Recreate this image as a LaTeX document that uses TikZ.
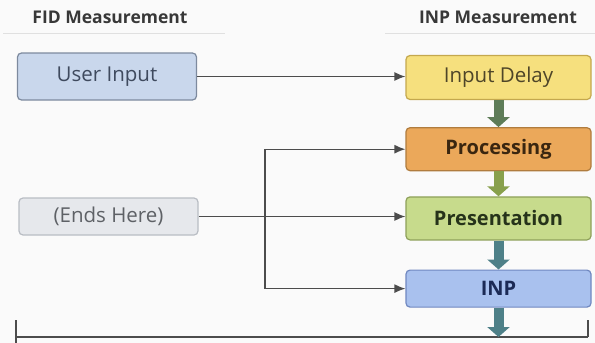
\documentclass[tikz,border=0pt]{standalone}
\usepackage{fontspec}
\setmainfont{Open Sans}
\usepackage{xcolor}
\usepackage{tikz}
\usetikzlibrary{positioning}
\usetikzlibrary{calc,arrows.meta}
\definecolor{userfill}{HTML}{C9D7EC}
\definecolor{userline}{HTML}{7D8A9E}
\definecolor{usertext}{HTML}{3F4A5E}
\definecolor{endsfill}{HTML}{E6E8EC}
\definecolor{endsline}{HTML}{B9BDC4}
\definecolor{endstext}{HTML}{5E6166}
\definecolor{delayfill}{HTML}{F6E07E}
\definecolor{delayline}{HTML}{C4A84E}
\definecolor{delaytext}{HTML}{4E4528}
\definecolor{procfill}{HTML}{EBA85A}
\definecolor{procline}{HTML}{B07C3E}
\definecolor{proctext}{HTML}{3A2610}
\definecolor{presfill}{HTML}{C7DB8C}
\definecolor{presline}{HTML}{8EA05A}
\definecolor{prestext}{HTML}{26331A}
\definecolor{inpfill}{HTML}{A9C1EE}
\definecolor{inpline}{HTML}{7088C0}
\definecolor{inptext}{HTML}{1C2A55}
\definecolor{flowgreen}{HTML}{5E7C58}
\definecolor{flowolive}{HTML}{88A04C}
\definecolor{flowteal}{HTML}{4E8088}
\tikzset{
  box/.style = {rectangle, rounded corners=4pt, align=center,
    line width=1.2pt, minimum width=185pt, minimum height=44pt,
    font=\fontsize{20.5}{24}\selectfont},
  fid_box/.style = {box, minimum width=179pt},% left column
  inp_box/.style = {box, font=\fontsize{20}{24}\selectfont\bfseries},% right column, bold
  header/.style = {font=\fontsize{17.5}{21}\selectfont\bfseries, text=black!78},
  link/.style = {draw=black!70, line width=1.3pt,
    -{Latex[length=11pt,width=9pt]}},
  flow/.style = {line width=10pt, -{Triangle[length=10pt,width=22pt]}}
}

\begin{document}
\begin{tikzpicture}[x=1pt,y=-1pt]
\useasboundingbox[fill=white!98!black] (0,0) rectangle (595,343);

% column headers
\node[header] (fidhead) at (110,17) {FID Measurement};
\node[header] (inphead) at (498,17) {INP Measurement};
\draw[black!12, line width=1pt] (3,33) -- (225,33);
\draw[black!12, line width=1pt] (385,33) -- (595,33);

% left column
\node[fid_box, fill=userfill, draw=userline, text=usertext,
  minimum height=47pt] (user) at (107,76.5) {User Input};
\node[fid_box, fill=endsfill, draw=endsline, text=endstext,
  minimum height=37pt] (ends) at (108.5,216.5) {(Ends Here)};

% right column
\node[box, fill=delayfill, draw=delayline, text=delaytext]
  (delay) at (498.5,77.5) {Input Delay};
\node[inp_box, fill=procfill, draw=procline, text=proctext,
  below=27pt of delay, minimum height=43pt] (proc) {Processing};
\node[inp_box, fill=presfill, draw=presline, text=prestext,
  below=25pt of proc, minimum height=43pt] (pres) {Presentation};
\node[inp_box, fill=inpfill, draw=inpline, text=inptext,
  below=29pt of pres, minimum height=37pt] (inp) {INP};

% flow down the INP column
\draw[flow, flowgreen] (delay.south) -- (proc.north);
\draw[flow, flowolive] (proc.south) -- (pres.north);
\draw[flow, flowteal] (pres.south) -- (inp.north);

% time axis
\coordinate (axisL) at (16,337);
\coordinate (axisR) at (588,337);
\draw[black!70, line width=1.3pt] (axisL) -- (axisR);
\draw[black!70, line width=1.6pt] ($(axisL)+(0,-17)$) -- ($(axisL)+(0,8)$);
\draw[black!70, line width=1.6pt] ($(axisR)+(0,-17)$) -- (axisR);
\draw[flow, flowteal] (inp.south) -- (inp.south |- axisR);

% connectors
\draw[link] (user.east) -- (user.east -| delay.west);
\draw[link] (ends.east) -- (ends.east -| pres.west);
\coordinate (split) at (265,216.5);
\draw[link] (split) |- (proc.west);
\draw[link] (split) |- (inp.west);
\end{tikzpicture}
\end{document}
